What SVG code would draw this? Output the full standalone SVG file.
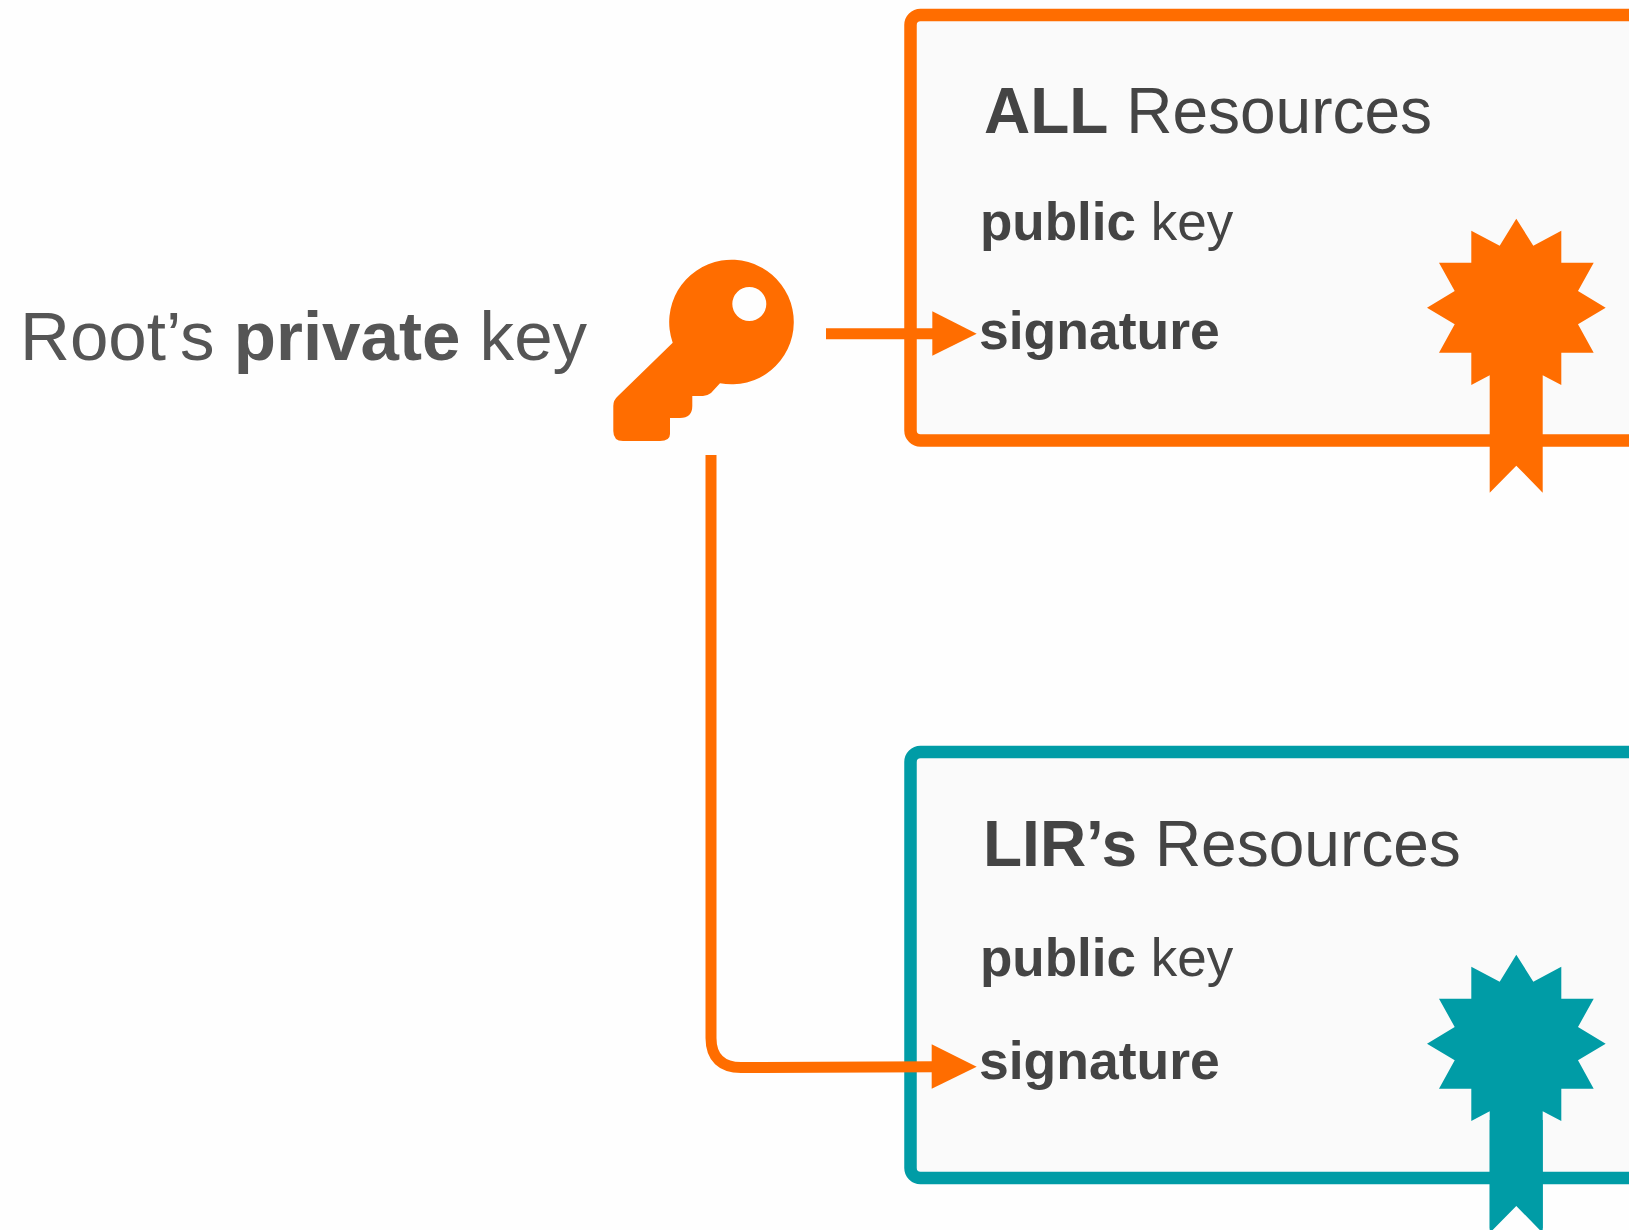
<svg xmlns="http://www.w3.org/2000/svg" width="1629" height="1230" viewBox="0 0 1629 1230">
<style>
text{font-family:"Liberation Sans",Arial,sans-serif}
.b{font-weight:700}
.t{font-size:64px;fill:#444}
.s{font-size:53px;fill:#444}
.sig{font-size:53.5px;fill:#444;font-weight:700}
.box{fill:#fafafa;stroke-width:12.5}
.or{fill:#ff6d00}
.te{fill:#009ca6}
.wire{fill:none;stroke:#ff6d00;stroke-width:11}
</style>
<defs>
<polygon id="badge" points="1516.3,218.7 1533.3,245.7 1561.3,230.7 1561.3,262.7 1593.7,262.7 1578,291 1605.7,307.7 1578,324.3 1593.7,352.7 1561.3,352.7 1561.3,385 1542.7,375.3 1542.7,492.7 1516.3,465.7 1489.7,492.7 1489.7,375.3 1471.3,385 1471.3,352.7 1439,352.7 1454.7,324.3 1427,307.7 1454.7,291 1439,262.7 1471.3,262.7 1471.3,230.7 1499.7,245.7"/>
</defs>
<rect width="1629" height="1230" fill="#fefefe"/>
<g id="root-label"><text x="20" y="359.5" font-size="69.1" fill="#555">Root’s <tspan class="b">private</tspan> key</text></g>
<g id="key"><path class="or" fill-rule="evenodd" d="M672.7,342.7A62.3,62.3 0 1 1 720,383.3L711,393Q707,396 703,396H692.3V406Q692.3,418 680,418H670V434Q670,441 660,441H623Q613.3,441 613.3,431V406Q613.3,400 618,396ZM749.3,287A17,17 0 1 0 749.31,321A17,17 0 1 0 749.3,287Z"/></g>
<g id="all-resources">
<rect class="box" x="910.5" y="15" width="800" height="425.5" rx="10" stroke="#ff6d00"/>
<text class="t" x="984" y="132.7"><tspan class="b">ALL</tspan> Resources</text>
<text class="s" x="980" y="240"><tspan class="b">public</tspan> key</text>
<text class="sig" x="979" y="348.5">signature</text>
<use href="#badge" class="or"/>
</g>
<g id="lir-resources">
<rect class="box" x="910.5" y="752" width="800" height="426" rx="10" stroke="#009ca6"/>
<text class="t" x="983" y="866"><tspan class="b">LIR’s</tspan> Resources</text>
<text class="s" x="980" y="976"><tspan class="b">public</tspan> key</text>
<text class="sig" x="979" y="1079.3">signature</text>
<use href="#badge" class="te" y="736"/>
<polygon class="te" points="1489.7,1120 1542.7,1120 1542.7,1233 1516.3,1206 1489.7,1233"/>
</g>
<g id="connectors">
<path class="wire" d="M826,333.7H935"/>
<polygon class="or" points="932.3,311.3 976.7,333.7 932.3,355.7"/>
<path class="wire" d="M711,455V1038C711,1058 722,1067.5 741,1067.5L935,1066.7"/>
<polygon class="or" points="931.7,1044.3 976.7,1066.7 931.7,1088.7"/>
</g>
</svg>
